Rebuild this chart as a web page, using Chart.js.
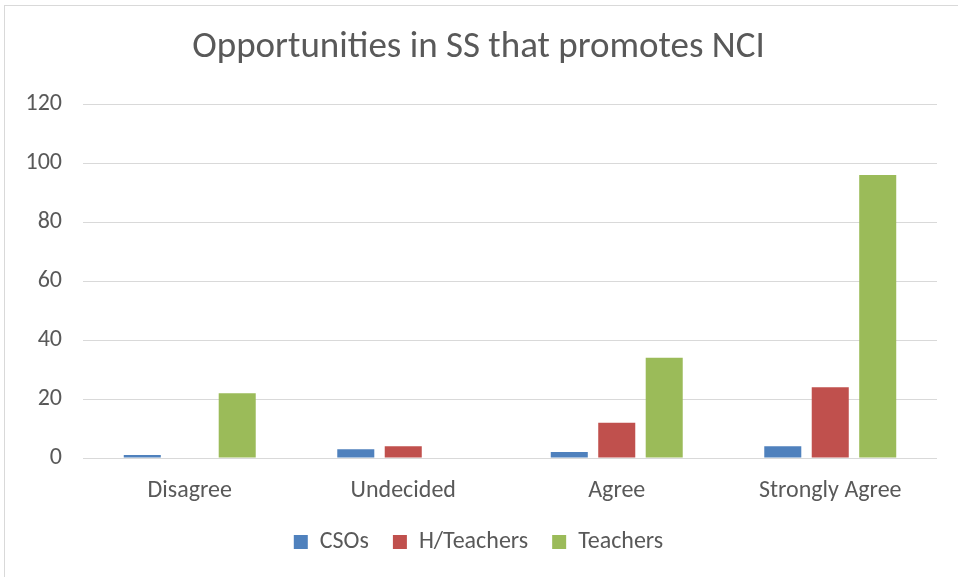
<!DOCTYPE html>
<html>
<head>
<meta charset="utf-8">
<script src="https://cdn.jsdelivr.net/npm/chart.js@4"></script>
<style>
  html, body { margin: 0; padding: 0; background: #fff; }
  #frame { position: absolute; left: 4px; top: 5px; width: 960px; height: 580px; border: 1px solid #d9d9d9; box-sizing: border-box; }
  #wrap { position: absolute; left: 0; top: 0; width: 958px; height: 577px; }
</style>
</head>
<body>
<div id="frame"></div>
<div id="wrap"><canvas id="myChart"></canvas></div>
<script>
  // data
  const categories = ['Disagree', 'Undecided', 'Agree', 'Strongly Agree'];
  const csos = [1, 3, 2, 4];
  const hTeachers = [0, 4, 12, 24];
  const teachers = [22, 0, 34, 96];
  const yTicks = [0, 20, 40, 60, 80, 100, 120];

  const fontFamily = 'Carlito, Calibri, "Open Sans", sans-serif';
  const textColor = '#595959';

  const data = {
    labels: categories,
    datasets: [
      { label: 'CSOs', data: csos, backgroundColor: '#4f81bd' },
      { label: 'H/Teachers', data: hTeachers, backgroundColor: '#c0504d' },
      { label: 'Teachers', data: teachers, backgroundColor: '#9bbb59' }
    ]
  };

  const config = {
    type: 'bar',
    data: data,
    options: {
      responsive: true,
      maintainAspectRatio: false,
      animation: false,
      categoryPercentage: 0.667,
      barPercentage: 0.78,
      layout: { padding: { left: 20, right: 21, top: 0, bottom: 13 } },
      plugins: {
        title: {
          display: true,
          text: 'Opportunities in SS that promotes NCI',
          color: textColor,
          font: { family: fontFamily, size: 37, weight: 'normal' },
          padding: { top: 26, bottom: 34 }
        },
        legend: {
          position: 'bottom',
          labels: {
            color: textColor,
            font: { family: fontFamily, size: 24 },
            boxWidth: 14,
            boxHeight: 14,
            padding: 24
          }
        },
        tooltip: { enabled: false }
      },
      scales: {
        y: {
          min: 0,
          max: 120,
          afterBuildTicks: function (scale) {
            scale.ticks = yTicks.map(v => ({ value: v }));
          },
          afterFit: function (scale) { scale.width = 63; },
          border: { display: false },
          grid: { color: '#d9d9d9', lineWidth: 1, drawTicks: false },
          ticks: {
            color: textColor,
            font: { family: fontFamily, size: 24 },
            padding: 21
          }
        },
        x: {
          afterFit: function (scale) { scale.height = 48; },
          border: { display: false },
          grid: { display: false, drawTicks: false },
          ticks: {
            color: textColor,
            font: { family: fontFamily, size: 24 },
            padding: 19
          }
        }
      }
    }
  };

  const myChart = new Chart(
    document.getElementById('myChart'),
    config
  );
</script>
</body>
</html>
